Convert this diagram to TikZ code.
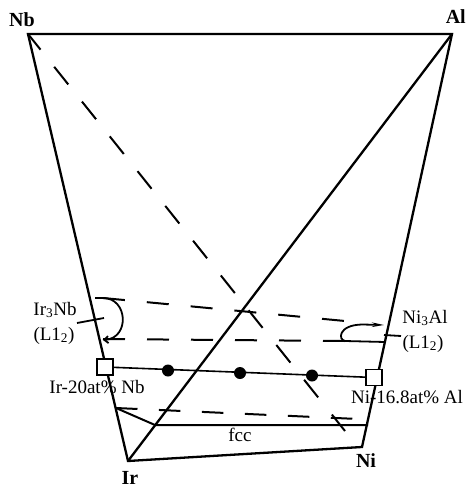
\documentclass[tikz,border=0pt]{standalone}
\usepackage{fontspec}
\setmainfont{Liberation Serif}
\usetikzlibrary{arrows.meta,calc}
\begin{document}
\begin{tikzpicture}[x=1pt,y=-1pt,
  edge/.style={line width=2.3pt, line join=miter},
  dashline/.style={line width=2pt, dash pattern=on 22pt off 22pt},
  diagdash/.style={line width=2pt, dash pattern=on 22.5pt off 22pt, dash phase=2.5pt},
  thinline/.style={line width=1.8pt},
  tie/.style={line width=1.6pt},
  vlabel/.style={font=\fontsize{20}{24}\selectfont\bfseries, inner sep=0pt},
  lab/.style={font=\fontsize{19}{22}\selectfont, inner sep=0pt, anchor=base},
  sqbox/.style={draw, fill=white, line width=1.3pt, minimum size=16pt, inner sep=0pt},
  blackdot/.style={circle, fill=black, minimum size=12pt, inner sep=0pt}]
\useasboundingbox (0,0) rectangle (467,489);
% vertices
\coordinate (Nb) at (28,34);
\coordinate (Al) at (452,34);
\coordinate (Ir) at (128,461);
\coordinate (Ni) at (362,447);
\node[vlabel] (NbL) at (22,20) {Nb};
\node[vlabel, anchor=east] (AlL) at (466,17) {Al};
\node[vlabel] (IrL) at (130,478) {Ir};
\node[vlabel] (NiL) at (366,461) {Ni};
% outline
\draw[edge] (Nb) -- (Al) -- (Ni) -- (Ir) -- cycle;
\draw[edge] (Ir) -- (Al);
% dashed diagonal Nb - Ni
\coordinate (diagEnd) at (345,431);
\draw[diagdash] (Nb) -- (diagEnd);
% Ir3Nb / Ni3Al two-phase dashed lines
\coordinate (upL) at (103,298);
\coordinate (upR) at (345,321);
\coordinate (loL) at (103,339);
\coordinate (loR) at (345,341);
\draw[dashline] (upL) -- (upR);
\draw[dashline] (loL) -- (loR);
% Ir3Nb loop
\coordinate (loopA) at (95,298);
\coordinate (loopB) at (103,340);
\draw[thinline, -{Straight Barb[length=4pt,width=7pt]}] (loopA) -- (upL) .. controls (128,298) and (130,338) .. (loopB);
% Ni3Al loop
\coordinate (nloopA) at (385,342);
\coordinate (nloopB) at (384,325);
\draw[thinline, -{Stealth[length=12pt,width=4.5pt]}] (nloopA) -- (loR) .. controls (338,340) and (338,325) .. (362,324.5) -- (nloopB);
% labels of L1_2 phases
\node[lab] (IrNbL) at (55,315) {Ir\textsubscript{3}Nb};
\node[lab] (IrNbS) at (54,340) {(L1\textsubscript{2})};
\node[lab] (NiAlL) at (425,323) {Ni\textsubscript{3}Al};
\node[lab] (NiAlS) at (423,348) {(L1\textsubscript{2})};
\coordinate (lead1a) at (77,323);
\coordinate (lead1b) at (104,318);
\draw[thinline] (lead1a) -- (lead1b);
\coordinate (lead2a) at (384,335);
\coordinate (lead2b) at (401,336);
\draw[thinline] (lead2a) -- (lead2b);
% tie line with alloys
\node[sqbox] (sqL) at (105,367) {};
\node[sqbox] (sqR) at (374,377.5) {};
\draw[tie] (sqL) -- (sqR);
\node[blackdot] (d1) at (168,370.5) {};
\node[blackdot] (d2) at (240,373) {};
\node[blackdot] (d3) at (312,375.5) {};
\node[lab] (alloyL) at (97,393) {Ir-20at\% Nb};
\node[lab] (alloyR) at (407,403) {Ni-16.8at\% Al};
% fcc region
\coordinate (fccA) at (116,408);
\coordinate (fccB) at (155,425);
\coordinate (fccC) at (368,425);
\coordinate (fccD) at (358,419);
\draw[dashline, dash pattern=on 21.5pt off 21.5pt] (fccA) -- (fccD);
\draw[thinline, line width=2pt] (fccA) -- (fccB) -- (fccC);
\node[lab] (fccL) at (240,441) {fcc};
\end{tikzpicture}
\end{document}
